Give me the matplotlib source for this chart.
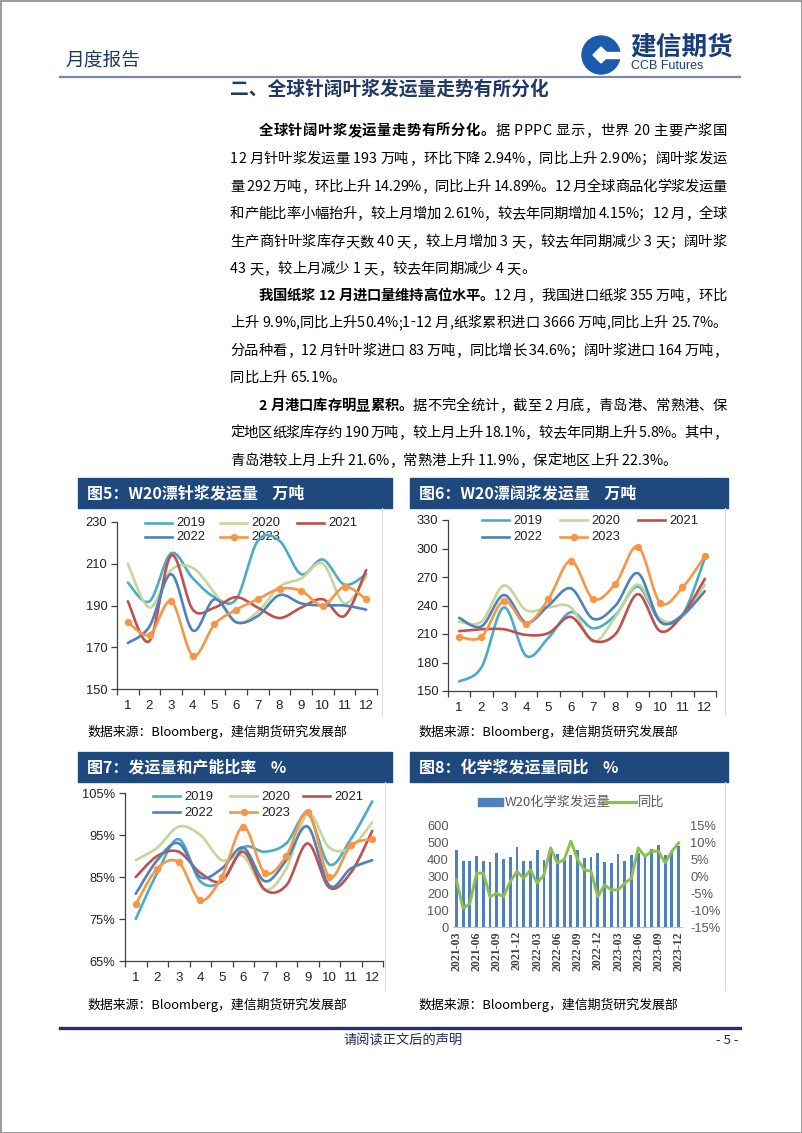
import numpy as np
import matplotlib
matplotlib.use('Agg')
import matplotlib.pyplot as plt
import pandas as pd
from matplotlib.font_manager import FontProperties, findfont, get_font
from matplotlib.ft2font import LOAD_NO_HINTING
from matplotlib.patches import Rectangle, Circle, Polygon

W, H = 802, 1133
CJK = 'Noto Sans CJK SC'
plt.rcParams['font.family'] = [CJK, 'DejaVu Sans']

# ---------------- data ----------------
months = list(range(1, 13))
years = ['2019', '2020', '2021', '2022', '2023']
year_colors = ['#4BACC6', '#C3D69B', '#C0504D', '#4F81BD', '#F79646']

# Fig5 W20 bleached softwood shipments (10k t)
sw_2019 = [201, 192, 215, 203, 194, 193, 221, 221, 205, 212, 200, 205]
sw_2020 = [210, 189, 207, 208, 196, 182, 187, 199, 203, 210, 191, 204]
sw_2021 = [192, 173, 214, 188, 189, 194, 189, 184, 189, 193, 185, 207]
sw_2022 = [172, 180, 205, 178, 193, 182, 185, 195, 191, 190, 190, 188]
sw_2023 = [182, 176, 192, 166, 181, 188, 193, 198, 197, 190, 199, 193]

# Fig6 W20 bleached hardwood shipments (10k t)
hw_2019 = [160, 175, 238, 187, 206, 233, 216, 230, 260, 224, 230, 290]
hw_2020 = [223, 223, 261, 235, 238, 238, 202, 228, 262, 226, 228, 262]
hw_2021 = [213, 215, 215, 209, 211, 228, 203, 210, 252, 213, 230, 268]
hw_2022 = [227, 218, 251, 222, 240, 258, 226, 240, 274, 223, 230, 255]
hw_2023 = [207, 207, 245, 221, 247, 287, 247, 263, 302, 243, 259, 292]

# Fig7 shipment / capacity ratio (%)
rt_2019 = [75, 86, 94, 84, 84, 92, 91, 93, 100, 88, 94, 103]
rt_2020 = [89, 92, 97, 95, 89, 90, 82, 87, 100, 92, 92, 98]
rt_2021 = [85, 90, 91, 86, 84, 91, 82, 83, 93, 82.5, 86, 96]
rt_2022 = [81, 89, 93, 85, 87, 92, 84, 89, 97, 83, 87, 89]
rt_2023 = [78.5, 87, 88.5, 79.5, 85, 97, 86, 90, 100.5, 85, 92.5, 94]

# Fig8 W20 chemical pulp shipments and YoY
chem_months = list(pd.period_range('2021-03', '2023-12', freq='M').strftime('%Y-%m'))
chem_ship = [460, 395, 395, 420, 390, 388, 440, 405, 415, 475,
             395, 395, 455, 398, 440, 435, 400, 430, 460, 410, 415, 440,
             385, 378, 435, 390, 428, 440, 420, 465, 490, 425, 450, 480]
chem_yoy = [-1, -9.5, -8, 1, 1, -6, -5, -6, -1.5, 1.5,
            -0.5, 2, -2, 0.5, 8.5, 4, 5, 10.5, 5, 2, 1.5, -6,
            -2.5, -4, -4, -2, -0.5, 8.5, 6, 7.5, 7.5, 4, 7.5, 10]

softwood = dict(zip(years, [sw_2019, sw_2020, sw_2021, sw_2022, sw_2023]))
hardwood = dict(zip(years, [hw_2019, hw_2020, hw_2021, hw_2022, hw_2023]))
ratio = dict(zip(years, [rt_2019, rt_2020, rt_2021, rt_2022, rt_2023]))
colors = dict(zip(years, year_colors))

NAVY = '#1F3864'
HEAD = '#1F497D'

fig = plt.figure(figsize=(W / 100, H / 100), dpi=100)
page = fig.add_axes([0, 0, 1, 1])
page.set_xlim(0, W)
page.set_ylim(H, 0)
page.axis('off')
page.patch.set_alpha(0)


def px_box(l, t, r, b):
    return [l / W, 1 - b / H, (r - l) / W, (b - t) / H]


# ---------------- page furniture ----------------
page.add_patch(Rectangle((0.5, 0.5), W - 1, H - 1, fill=False, ec='#8A8A8A', lw=1.2))
page.text(65, 60, '月度报告', fontsize=13.5, color=NAVY, va='center', ha='left')
# logo
cx, cy, r = 601, 55, 19
page.add_patch(Circle((cx, cy), r, color='#1C5AAB', zorder=3))
page.add_patch(Polygon([[cx - 8, cy], [cx, cy - 8], [cx + 8, cy], [cx, cy + 8]], closed=True,
                       color='white', zorder=4))
page.add_patch(Rectangle((cx + 2, cy - 3), r, 6, color='white', zorder=4))
page.text(630, 47, '建信期货', fontsize=18.5, fontweight='bold', color='#1A3C78', va='center', ha='left')
page.text(631, 66, 'CCB Futures', fontsize=9, color='#1A3C78', va='center', ha='left',
          family=['Liberation Sans'])
page.plot([60, 740], [77, 77], color='#7D89A6', lw=1.6)
page.text(230, 89, '二、全球针阔叶浆发运量走势有所分化', fontsize=13.5, fontweight='bold',
          color=NAVY, va='center', ha='left')

# footer
page.plot([60, 740], [1028, 1028], color='#2D2D6B', lw=2.4)
page.text(403, 1041, '请阅读正文后的声明', fontsize=9.5, color='#1F2A5A', va='center', ha='center')
page.text(739, 1041, '- 5 -', fontsize=9.5, color='#1F2A5A', va='center', ha='right')

# ---------------- body text ----------------
BODY_FS = 10.3
prop_reg = FontProperties(family=CJK, size=BODY_FS)
prop_bold = FontProperties(family=CJK, size=BODY_FS, weight='bold')


def advance(ch, prop):
    font = get_font(findfont(prop))
    font.set_size(prop.get_size_in_points(), 100)
    g = font.load_char(ord(ch), flags=LOAD_NO_HINTING)
    return g.linearHoriAdvance / 65536


LEFT, RIGHT = 230, 727
INDENT = LEFT + 2 * BODY_FS * 100 / 72

paragraphs = [
    [('全球针阔叶浆发运量走势有所分化。', '据 PPPC 显示，世界 20 主要产浆国'),
     ('', '12 月针叶浆发运量 193 万吨，环比下降 2.94%，同比上升 2.90%；阔叶浆发运'),
     ('', '量 292 万吨，环比上升 14.29%，同比上升 14.89%。12 月全球商品化学浆发运量'),
     ('', '和产能比率小幅抬升，较上月增加 2.61%，较去年同期增加 4.15%；12 月，全球'),
     ('', '生产商针叶浆库存天数 40 天，较上月增加 3 天，较去年同期减少 3 天；阔叶浆'),
     ('', '43 天，较上月减少 1 天，较去年同期减少 4 天。')],
    [('我国纸浆 12 月进口量维持高位水平。', '12 月，我国进口纸浆 355 万吨，环比'),
     ('', '上升 9.9%,同比上升50.4%;1-12 月,纸浆累积进口 3666 万吨,同比上升 25.7%。'),
     ('', '分品种看，12 月针叶浆进口 83 万吨，同比增长 34.6%；阔叶浆进口 164 万吨，'),
     ('', '同比上升 65.1%。')],
    [('2 月港口库存明显累积。', '据不完全统计，截至 2 月底，青岛港、常熟港、保'),
     ('', '定地区纸浆库存约 190 万吨，较上月上升 18.1%，较去年同期上升 5.8%。其中，'),
     ('', '青岛港较上月上升 21.6%，常熟港上升 11.9%，保定地区上升 22.3%。')],
]
line_y = [130, 158, 186, 213, 241, 268, 295, 322, 350, 377, 405, 432, 460]

k = 0
for para in paragraphs:
    for li, (bold, rest) in enumerate(para):
        chars = [(c, prop_bold) for c in bold] + [(c, prop_reg) for c in rest]
        x0 = INDENT if li == 0 else LEFT
        advs = [advance(c, p) for c, p in chars]
        last = li == len(para) - 1
        gap = 0.0 if last else (RIGHT - x0 - sum(advs)) / (len(chars) - 1)
        x = x0
        yb = line_y[k] + 5
        for (c, p), a in zip(chars, advs):
            if c != ' ':
                page.text(x, yb, c, fontproperties=p, color='black', va='baseline', ha='left')
            x += a + gap
        k += 1

# ---------------- chart headers / sources ----------------
headers = [((78, 478, 392, 508), '图5：W20漂针浆发运量    万吨'),
           ((410, 478, 728, 508), '图6：W20漂阔浆发运量    万吨'),
           ((78, 752, 392, 782), '图7：发运量和产能比率    %'),
           ((410, 752, 728, 782), '图8：化学浆发运量同比    %')]
for (l, t, r_, b), txt in headers:
    page.add_patch(Rectangle((l, t), r_ - l, b - t, color=HEAD, zorder=2))
    page.text(l + 9, (t + b) / 2 + 1, txt, fontsize=11.5, fontweight='bold', color='white',
              va='center', ha='left', zorder=3)
for x, t, b in [(382, 508, 715), (725, 508, 715), (385, 782, 990), (725, 782, 990)]:
    page.plot([x, x], [t, b], color='#DADADA', lw=0.8)
for x, y in [(87, 732), (418, 732), (87, 1005), (418, 1005)]:
    page.text(x, y, '数据来源：Bloomberg，建信期货研究发展部', fontsize=9.3, color='black',
              va='center', ha='left', style='italic', family=[CJK, 'DejaVu Sans'])


# ---------------- smoothed line charts ----------------
def smooth(x, y, n=20):
    P = np.column_stack([np.asarray(x, float), np.asarray(y, float)])
    Pe = np.vstack([P[0], P, P[-1]])
    t = np.linspace(0, 1, n, endpoint=False)[:, None]
    segs = []
    for i in range(len(P) - 1):
        p0, p1, p2, p3 = Pe[i], Pe[i + 1], Pe[i + 2], Pe[i + 3]
        c1 = p1 + (p2 - p0) / 6
        c2 = p2 - (p3 - p1) / 6
        segs.append((1 - t) ** 3 * p1 + 3 * (1 - t) ** 2 * t * c1 + 3 * (1 - t) * t ** 2 * c2 + t ** 3 * p2)
    segs.append(P[-1:])
    A = np.vstack(segs)
    return A[:, 0], A[:, 1]


TICKFONT = ['Liberation Sans']


def line_chart(box, data, ylim, yticks, fmt, leg_x, leg_y, hl=27):
    ax = fig.add_axes(px_box(*box))
    ax.patch.set_alpha(0)
    for yr in years:
        xs, ys = smooth(months, data[yr])
        ax.plot(xs, ys, color=colors[yr], lw=1.9, solid_capstyle='round', clip_on=False)
        if yr == '2023':
            ax.plot(months, data[yr], 'o', color=colors[yr], ms=4.3, clip_on=False)
    ax.set_xlim(0.5, 12.5)
    ax.set_ylim(*ylim)
    ax.set_yticks(yticks)
    ax.set_yticklabels([fmt(v) for v in yticks], family=TICKFONT, fontsize=9.3, color='#222222')
    ax.set_xticks(months)
    ax.set_xticklabels([str(m) for m in months], family=TICKFONT, fontsize=9.5, color='#222222')
    ax.set_xticks(np.arange(0.5, 13, 1), minor=True)
    ax.tick_params(axis='x', which='major', length=0, pad=8)
    ax.tick_params(axis='x', which='minor', length=4, direction='out', color='#404040', width=0.9)
    ax.tick_params(axis='y', length=4, direction='out', pad=3, color='#404040', width=0.9)
    for s in ['top', 'right']:
        ax.spines[s].set_visible(False)
    for s in ['left', 'bottom']:
        ax.spines[s].set_color('#404040')
        ax.spines[s].set_linewidth(0.9)
    # legend (row-major: 2019 2020 2021 / 2022 2023)
    for i, yr in enumerate(years):
        col, row = i % 3, i // 3
        x1, y1 = leg_x[col], leg_y[row]
        page.plot([x1, x1 + hl], [y1, y1], color=colors[yr], lw=1.9, zorder=5)
        if yr == '2023':
            page.plot([x1 + hl / 2], [y1], 'o', color=colors[yr], ms=4.3, zorder=5)
        page.text(x1 + hl + 4, y1 + 0.5, yr, fontsize=9.3, family=TICKFONT, color='#222222',
                  va='center', ha='left', zorder=5)
    return ax


line_chart((117, 522, 377, 689), softwood, (150, 230), [150, 170, 190, 210, 230],
           lambda v: f'{v:d}', [145, 220, 297], [523, 537])
line_chart((448, 520, 716, 691), hardwood, (150, 330), [150, 180, 210, 240, 270, 300, 330],
           lambda v: f'{v:d}', [482, 560, 638], [520, 537])
line_chart((125, 793, 383, 961), ratio, (65, 105), [65, 75, 85, 95, 105],
           lambda v: f'{v:d}%', [153, 230, 303], [796, 812])

# ---------------- chart 8: bars + YoY ----------------
ax8 = fig.add_axes(px_box(453, 826, 682, 927))
ax8.patch.set_alpha(0)
idx = np.arange(len(chem_months))
ax8.bar(idx, chem_ship, width=0.42, color='#4F81BD', zorder=2)
ax8.set_xlim(-0.5, len(chem_months) - 0.5)
ax8.set_ylim(0, 600)
ax8.set_yticks(range(0, 601, 100))
ax8.set_yticklabels([str(v) for v in range(0, 601, 100)], family=TICKFONT, fontsize=9.3, color='#595959')
ax8.set_xticks(idx[::3])
ax8.set_xticklabels([chem_months[i] for i in idx[::3]], rotation=90, family=['Liberation Serif'],
                    fontweight='bold', fontsize=8.6, color='#404040')
ax8.tick_params(axis='both', length=0, pad=3)
for s in ['top', 'right', 'left']:
    ax8.spines[s].set_visible(False)
ax8.spines['bottom'].set_color('#BFBFBF')
ax8r = ax8.twinx()
ax8r.plot(idx, chem_yoy, color='#8DC04B', lw=2.1, zorder=3)
ax8r.set_ylim(-15, 15)
yt = [-15, -10, -5, 0, 5, 10, 15]
ax8r.set_yticks(yt)
ax8r.set_yticklabels([f'{v}%' for v in yt], family=TICKFONT, fontsize=9.3, color='#595959')
ax8r.tick_params(axis='y', length=0, pad=6)
for s in ax8r.spines.values():
    s.set_visible(False)
# legend
page.add_patch(Rectangle((478, 798), 25, 8, color='#4F81BD', zorder=5))
page.text(505, 802, 'W20化学浆发运量', fontsize=9.5, color='#595959', va='center', ha='left', zorder=5)
page.plot([605, 636], [802, 802], color='#8DC04B', lw=2.3, zorder=5)
page.text(638, 802, '同比', fontsize=9.5, color='#595959', va='center', ha='left', zorder=5)

fig.savefig('out.png', dpi=100, facecolor='white')
